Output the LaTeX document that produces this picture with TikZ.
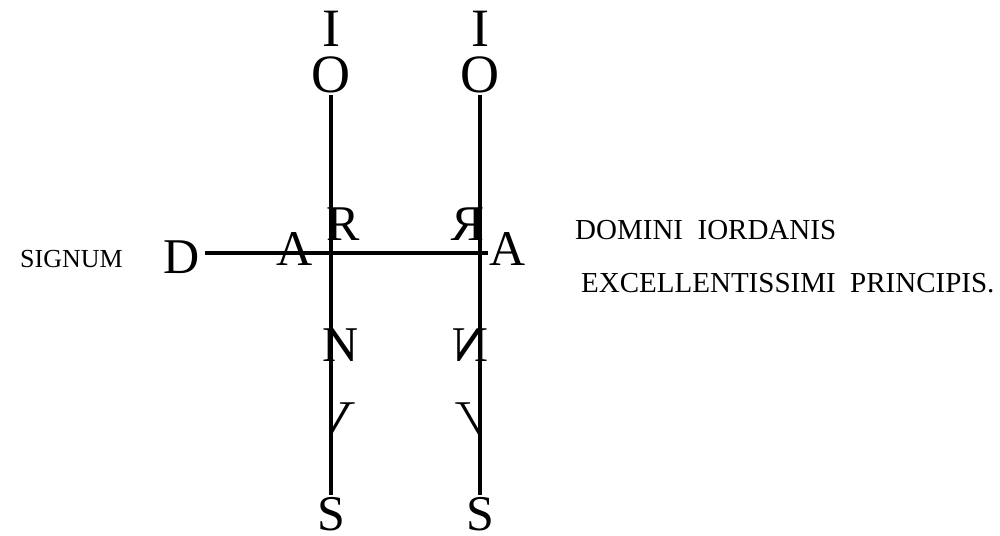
\documentclass[tikz,border=0pt]{standalone}
\usepackage{fontspec}
\setmainfont{Liberation Serif}
\tikzset{
  bigletter/.style={font=\fontsize{50}{50}\selectfont, inner sep=0pt, anchor=base},
  topletter/.style={font=\fontsize{54}{54}\selectfont, inner sep=0pt, anchor=base},
  lbltext/.style={font=\fontsize{29}{29}\selectfont, inner sep=0pt, anchor=base west},
  sigtext/.style={font=\fontsize{26}{26}\selectfont, inner sep=0pt, anchor=base east},
  bar/.style={line width=3.5pt, draw=black},
}
\begin{document}
\begin{tikzpicture}[x=1pt,y=-1pt]
\useasboundingbox (0,0) rectangle (1000,535);
% top letters
\node[topletter] (I1) at (331,46) {I};
\node[topletter] (O1) at (331,92) {O};
\node[topletter] (I2) at (480,46) {I};
\node[topletter] (O2) at (480,92) {O};
% bottom letters
\node[bigletter] (S1) at (331,530) {S};
\node[bigletter] (S2) at (480,530) {S};
% crossing letters
\node[bigletter] (D) at (182,273) {D};
\node[bigletter] (A1) at (295,265) {A};
\node[bigletter] (A2) at (508,265) {A};
\node[bigletter] (R1) at (343,240) {R};
\node[bigletter, xscale=-1] (R2) at (468,240) {R};
\node[bigletter] (N1) at (341,361) {N};
\node[bigletter, xscale=-1] (N2) at (470,361) {N};
\begin{scope}
  \clip (333,380) rectangle (375,440);
  \node[bigletter, xscale=1.4] (V1) at (331,435) {V};
\end{scope}
\begin{scope}
  \clip (436,380) rectangle (478,440);
  \node[bigletter, xscale=-1.4] (V2) at (480,435) {V};
\end{scope}
% strokes
\draw[bar] ([yshift=-2pt]O1.south) -- ([yshift=2pt]S1.north);
\draw[bar] ([yshift=-2pt]O2.south) -- ([yshift=2pt]S2.north);
\coordinate (hL) at (205,253);
\coordinate (hR) at (488,253);
\draw[bar] (hL) -- (hR);
% texts
\node[sigtext] (sig) at (123,267) {SIGNUM};
\node[lbltext] (dom) at (575,239) {DOMINI\hspace{0.5em}IORDANIS};
\node[lbltext] (exc) at (581,292) {EXCELLENTISSIMI\hspace{0.5em}PRINCIPIS.};
\end{tikzpicture}
\end{document}
